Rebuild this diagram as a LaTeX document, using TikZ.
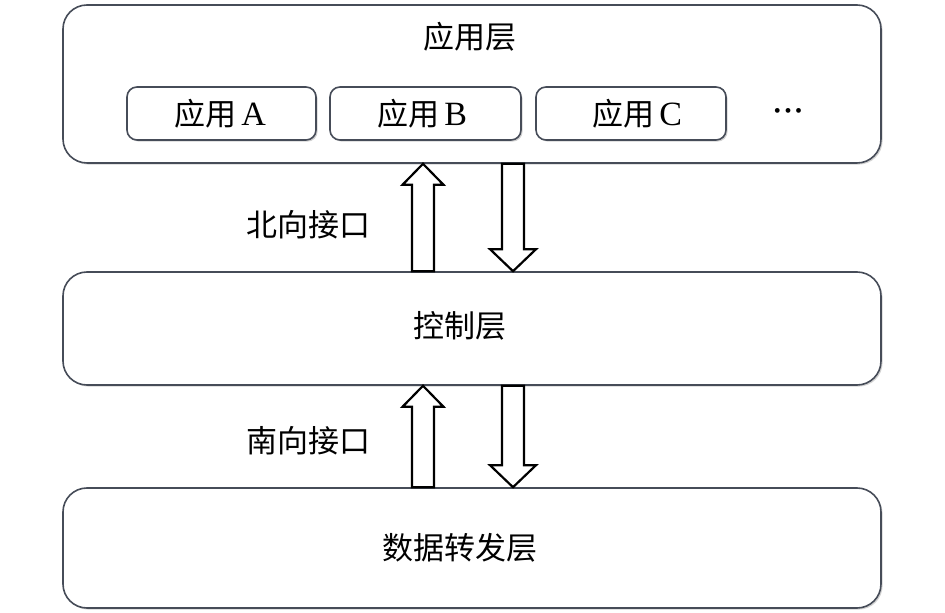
\documentclass[tikz,border=0pt]{standalone}
\usepackage{fontspec}
\setmainfont{Liberation Serif}
\newfontfamily\cjk{Noto Sans CJK SC}
\usepackage{tikz}
\usetikzlibrary{calc}
\usetikzlibrary{shadows}
\definecolor{edgegray}{RGB}{70,76,88}
\tikzset{
    layer/.style={draw=edgegray,line width=0.8pt,fill=white,rounded corners=12pt,minimum width=409pt,drop shadow={shadow xshift=0.8pt,shadow yshift=-0.8pt,opacity=0.35}},
    appbox/.style={draw=edgegray,line width=0.8pt,fill=white,rounded corners=5pt,minimum height=26.5pt,drop shadow={shadow xshift=0.8pt,shadow yshift=-0.8pt,opacity=0.35}},
    blk/.style={draw=black,line width=1.1pt,fill=white,line join=miter},
    lbl/.style={font=\cjk\fontsize{15.5}{18}\selectfont,inner sep=0pt}
}
\newcommand{\latin}[1]{{\rmfamily\fontsize{17}{18}\selectfont #1}}
% block arrows: #1 foot, #2 tip
\newcommand{\upblk}[2]{\draw[blk] ($(#1)+(-11,0)$) -- ($(#2)+(-11,21)$) -- ($(#2)+(-20.5,21)$) -- (#2) -- ($(#2)+(20.5,21)$) -- ($(#2)+(11,21)$) -- ($(#1)+(11,0)$) -- cycle;}
\newcommand{\downblk}[2]{\draw[blk] ($(#1)+(-11,0)$) -- ($(#2)+(-11,-22)$) -- ($(#2)+(-23,-22)$) -- (#2) -- ($(#2)+(23,-22)$) -- ($(#2)+(11,-22)$) -- ($(#1)+(11,0)$) -- cycle;}

\begin{document}
\begin{tikzpicture}[x=0.5pt,y=-0.5pt]
\useasboundingbox (0,0) rectangle (945,613);
% layers
\node[layer,minimum height=79pt] (app) at (472,84) {};
\node[layer,minimum height=56.5pt] (ctl) at (472,328.5) {};
\node[layer,minimum height=60pt] (fwd) at (472,548) {};
\node[lbl] (applbl) at (470,37) {应用层};
\node[lbl] (ctllbl) at (460,326) {控制层};
\node[lbl] (fwdlbl) at (460,548) {数据转发层};
% applications
\node[appbox,minimum width=94.5pt] (appA) at (221.5,113.5) {};
\node[appbox,minimum width=95.5pt] (appB) at (425.5,113.5) {};
\node[appbox,minimum width=95pt] (appC) at (631,113.5) {};
\node[lbl] at (220,113.5) {应用\,\latin{A}};
\node[lbl] at (422,113.5) {应用\,\latin{B}};
\node[lbl] at (637,113.5) {应用\,\latin{C}};
\node[font=\rmfamily\fontsize{10}{10}\selectfont,inner sep=0pt] (more) at (788,113) {\textbullet\hspace{1.8pt}\textbullet\hspace{1.8pt}\textbullet};
% interfaces
\coordinate (up) at (423,0); \coordinate (down) at (513,0);
\upblk{ctl.north -| up}{app.south -| up}
\downblk{app.south -| down}{ctl.north -| down}
\upblk{fwd.north -| up}{ctl.south -| up}
\downblk{ctl.south -| down}{fwd.north -| down}
\node[lbl] (north) at (308,225) {北向接口};
\node[lbl] (south) at (308,441) {南向接口};
\end{tikzpicture}
\end{document}
